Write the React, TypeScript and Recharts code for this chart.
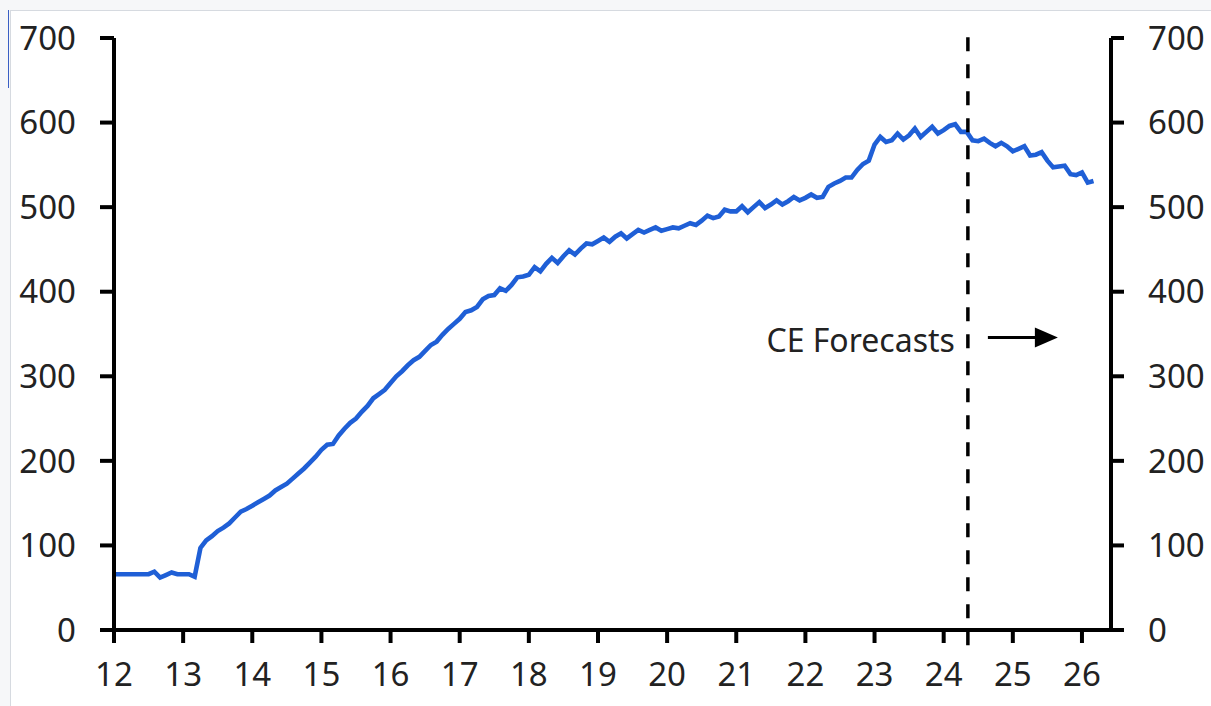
import React from 'react';
import { LineChart, Line, XAxis, YAxis, ReferenceLine, ReferenceDot } from 'recharts';

// monthly series, Jan 2012 onwards (x axis shows two-digit years)
const startYear = 12;
const values = [
  66, 66, 66, 66, 66, 66, 66, 69, 62, 65, 68, 66,
  66, 66, 63, 97, 106, 111, 117, 121, 126, 133, 140, 143,
  147, 151, 155, 159, 165, 169, 173, 179, 185, 191, 198, 205,
  213, 219, 220, 230, 238, 245, 250, 258, 265, 274, 279, 284,
  292, 300, 306, 313, 319, 323, 330, 337, 341, 349, 356, 362,
  368, 376, 378, 382, 391, 395, 396, 404, 401, 408, 417, 418,
  420, 429, 424, 433, 440, 434, 442, 449, 444, 451, 457, 456,
  460, 464, 459, 465, 469, 463, 468, 473, 470, 473, 476, 472,
  474, 476, 475, 478, 481, 479, 484, 490, 487, 489, 497, 495,
  495, 501, 494, 500, 506, 499, 503, 508, 503, 507, 512, 508,
  511, 515, 511, 512, 524, 528, 531, 535, 535, 544, 551, 555,
  574, 583, 577, 579, 587, 580, 585, 593, 583, 589, 595, 587,
  591, 596, 598, 589, 589, 579, 578, 581, 576, 572, 576, 572,
  566, 569, 572, 561, 562, 565, 555, 547, 548, 549, 539, 538,
  541, 529, 531,
];
const xTicks = [12, 13, 14, 15, 16, 17, 18, 19, 20, 21, 22, 23, 24, 25, 26];
const yTicks = [0, 100, 200, 300, 400, 500, 600, 700];
const forecastStart = 24.35;
const forecastLabel = 'CE Forecasts';
const forecastLabelLevel = 346;

const data = values.map((v, i) => ({ t: startYear + i / 12, v }));

const font = 'Noto Sans';
const tickStyle = { fontSize: 33, fill: '#222', fontFamily: font };
const black = { stroke: '#000', strokeWidth: 4 };

const ForecastLabel = (props: any) => {
  const { viewBox } = props;
  const cx = viewBox.x + viewBox.width / 2;
  const cy = viewBox.y + viewBox.height / 2;
  return (
    <g>
      <text x={cx - 13} y={cy + 15} textAnchor="end" fontSize={32} fill="#222" fontFamily={font}>
        {forecastLabel}
      </text>
      <line x1={cx + 20} y1={cy} x2={cx + 70} y2={cy} stroke="#000" strokeWidth={3} />
      <polygon points={`${cx + 90},${cy} ${cx + 67},${cy - 10} ${cx + 67},${cy + 10}`} fill="#000" />
    </g>
  );
};

const App = () => {
  return (
    <div style={{ position: 'absolute', left: 0, top: 0, width: 1211, height: 706, background: '#f6f7f9', overflow: 'hidden' }}>
      <div style={{ position: 'absolute', left: 10, top: 10, right: 0, bottom: 0, background: '#fff', borderTop: '1px solid #d6dae0', borderLeft: '1px solid #d6dae0' }} />
      <div style={{ position: 'absolute', left: 8, top: 10, width: 1, height: 78, background: '#3a5fc4' }} />
      <div style={{ position: 'absolute', left: 0, top: 0 }}>
        <LineChart width={1211} height={706} data={data} margin={{ top: 38, right: 0, bottom: 0, left: 0 }}>
          <XAxis
            dataKey="t"
            type="number"
            xAxisId="x"
            domain={[12, 26.42]}
            ticks={xTicks}
            interval={0}
            allowDataOverflow
            tick={tickStyle}
            tickLine={black}
            axisLine={black}
            tickSize={13}
            tickMargin={20}
            height={76}
          />
          <YAxis
            yAxisId="left"
            domain={[0, 700]}
            ticks={yTicks}
            interval={0}
            tick={tickStyle}
            tickLine={black}
            axisLine={black}
            tickSize={14}
            tickMargin={24}
            width={114}
          />
          <YAxis
            yAxisId="right"
            orientation="right"
            domain={[0, 700]}
            ticks={yTicks}
            interval={0}
            tick={tickStyle}
            tickLine={black}
            axisLine={black}
            tickSize={13}
            tickMargin={24}
            width={100}
          />
          {/* invisible twin so the right axis gets its ticks */}
          <Line
            xAxisId="x"
            yAxisId="right"
            type="linear"
            dataKey="v"
            stroke="none"
            dot={false}
            activeDot={false}
            legendType="none"
            isAnimationActive={false}
          />
          <Line
            xAxisId="x"
            yAxisId="left"
            type="linear"
            dataKey="v"
            stroke="#1f5fd6"
            strokeWidth={4.6}
            dot={false}
            isAnimationActive={false}
          />
          <ReferenceLine
            xAxisId="x"
            yAxisId="left"
            segment={[{ x: forecastStart, y: -18 }, { x: forecastStart, y: 714 }]}
            ifOverflow="visible"
            stroke="#000"
            strokeWidth={3.5}
            strokeDasharray="14 13"
          />
          <ReferenceDot
            xAxisId="x"
            yAxisId="left"
            x={forecastStart}
            y={forecastLabelLevel}
            r={1}
            fill="none"
            stroke="none"
            ifOverflow="visible"
            label={<ForecastLabel />}
          />
        </LineChart>
      </div>
    </div>
  );
};

export default App;
